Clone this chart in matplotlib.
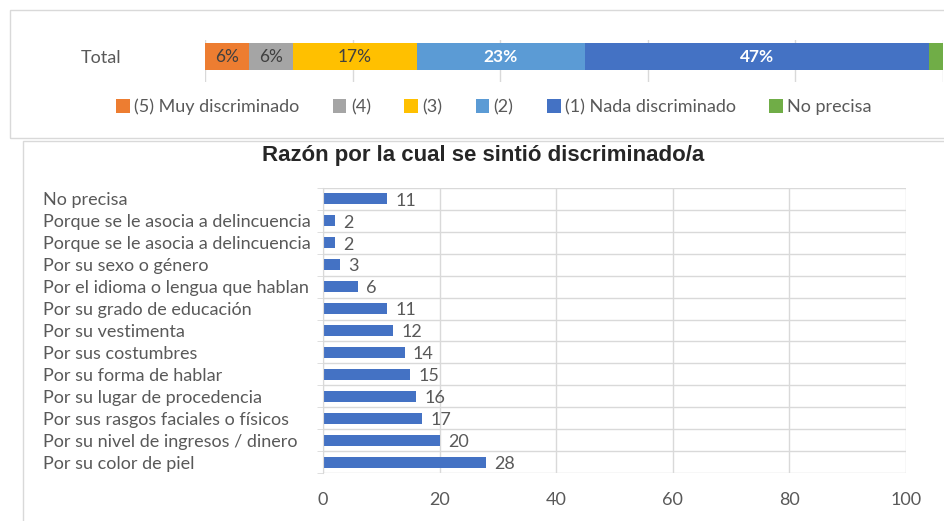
import matplotlib.pyplot as plt
from matplotlib.patches import Rectangle

# --- datos ---
niveles = ['(5) Muy discriminado', '(4)', '(3)', '(2)', '(1) Nada discriminado', 'No precisa']
porcentajes = [6.0, 5.9, 16.8, 22.8, 46.6, 1.9]
colores_niveles = ['#ED7D31', '#A5A5A5', '#FFC000', '#5B9BD5', '#4472C4', '#70AD47']
etiquetas_pct = ['6%', '6%', '17%', '23%', '47%', '']
color_etiqueta = ['#404040', '#404040', '#404040', 'white', 'white', 'white']

razones = [
    'No precisa',
    'Porque se le asocia a delincuencia',
    'Porque se le asocia a delincuencia',
    'Por su sexo o género',
    'Por el idioma o lengua que hablan',
    'Por su grado de educación',
    'Por su vestimenta',
    'Por sus costumbres',
    'Por su forma de hablar',
    'Por su lugar de procedencia',
    'Por sus rasgos faciales o físicos',
    'Por su nivel de ingresos / dinero',
    'Por su color de piel',
]
conteos = [11, 2, 2, 3, 6, 11, 12, 14, 15, 16, 17, 20, 28]

plt.rcParams['font.family'] = ['Lato', 'DejaVu Sans']
gris_txt = '#595959'
gris_grid = '#D9D9D9'

W, H = 944, 521
fig = plt.figure(figsize=(W / 100, H / 100), dpi=100)

def fx(px):
    return px / W

def fy(px):
    return 1 - px / H

# marcos de los paneles
fig.patches.append(Rectangle((fx(10), fy(138)), fx(944) - fx(10) + 0.01, fy(10) - fy(138),
                             transform=fig.transFigure, fill=False, edgecolor=gris_grid, lw=1))
fig.patches.append(Rectangle((fx(23), fy(530)), 1.0, fy(141) - fy(530),
                             transform=fig.transFigure, fill=False, edgecolor=gris_grid, lw=1))

# --- barra apilada (Total) ---
ax1 = fig.add_axes([fx(205), fy(82), fx(943) - fx(205), fy(40) - fy(82)])
izq = 0
for nivel, val, col, lab, ctxt in zip(niveles, porcentajes, colores_niveles, etiquetas_pct, color_etiqueta):
    ax1.barh(0, val, left=izq, height=0.643, color=col, label=nivel)
    if lab:
        ax1.text(izq + val / 2, 0, lab, ha='center', va='center', fontsize=12.5, color=ctxt,
                 fontweight='bold' if ctxt == 'white' else 'normal')
    izq += val
ax1.set_xlim(0, 100)
ax1.set_ylim(-0.607, 0.393)
ax1.set_xticks([0, 20, 40, 60, 80, 100])
ax1.set_xticklabels([])
ax1.grid(axis='x', color=gris_grid, lw=1)
ax1.set_axisbelow(True)
ax1.tick_params(axis='x', length=0)
ax1.set_yticks([0])
ax1.set_yticklabels(['Total'], fontsize=13, color=gris_txt)
ax1.tick_params(axis='y', length=0, pad=60)
for s in ax1.spines.values():
    s.set_visible(False)
ax1.legend(loc='center', bbox_to_anchor=(fx(494), fy(107)), bbox_transform=fig.transFigure,
           ncol=6, frameon=False, fontsize=13, handlelength=0.75, handleheight=0.75,
           handletextpad=0.25, columnspacing=1.85, labelcolor=gris_txt)

# --- barras horizontales ---
fig.text(fx(483), fy(155), 'Razón por la cual se sintió discriminado/a', ha='center', va='center',
         fontsize=16, fontweight='bold', family=['Liberation Sans', 'DejaVu Sans'], color='#262626')

ax2 = fig.add_axes([fx(323), fy(473), fx(906) - fx(323), fy(188) - fy(473)])
pos = list(range(len(razones)))
ax2.barh(pos, conteos, height=0.5, color='#4472C4')
for p, c in zip(pos, conteos):
    ax2.text(c + 1.4, p + 0.08, str(c), va='center', ha='left', fontsize=13, color=gris_txt)
ax2.set_xlim(0, 100)
ax2.set_ylim(len(razones) - 0.5, -0.5)
ax2.set_yticks(pos)
ax2.set_yticklabels(razones, fontsize=13, color=gris_txt)
for lbl in ax2.get_yticklabels():
    lbl.set_horizontalalignment('left')
ax2.set_yticks([p + 0.5 for p in range(-1, len(razones))], minor=True)
ax2.tick_params(axis='y', which='major', length=0, pad=(323 - 43) * 0.72)
ax2.tick_params(axis='y', which='minor', length=4, color=gris_grid)
ax2.set_xticks([0, 20, 40, 60, 80, 100])
ax2.tick_params(axis='x', length=0, pad=14, labelsize=13, labelcolor=gris_txt)
ax2.grid(axis='x', color=gris_grid, lw=1)
ax2.grid(axis='y', which='minor', color=gris_grid, lw=1)
ax2.set_axisbelow(True)
for s in ['top', 'right', 'bottom']:
    ax2.spines[s].set_visible(False)
ax2.spines['left'].set_color(gris_grid)

fig.savefig('out.png', dpi=100)
